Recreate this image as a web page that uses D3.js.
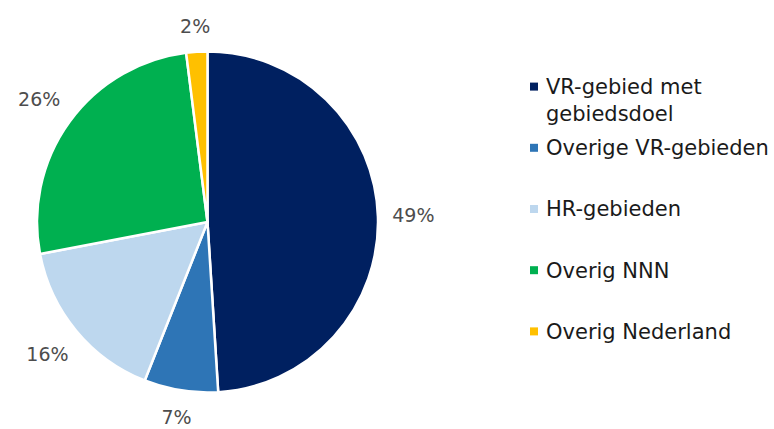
<!DOCTYPE html>
<html lang="nl">

<head>
    <meta charset="UTF-8">
    <title>Verdeling</title>
    <style>
        body {
            margin: 0;
            background: #fff;
            font-family: "DejaVu Sans", sans-serif;
        }
    </style>
</head>

<body>
    <div id="chart"></div>
    <script src="https://d3js.org/d3.v7.min.js"></script>
    <script>
        const categories = ["VR-gebied met gebiedsdoel", "Overige VR-gebieden", "HR-gebieden", "Overig NNN", "Overig Nederland"];
        const shares = [49, 7, 16, 26, 2];
        const colors = ["#002060", "#2e75b6", "#bdd7ee", "#00b050", "#ffc000"];

        function drawPie() {
            const width = 774;
            const height = 429;
            const cx = 207.5, cy = 222, radius = 170.5;

            const data = categories.map((c, i) => ({ name: c, value: shares[i] }));

            const svg = d3.select("#chart").append("svg")
                .attr("width", width)
                .attr("height", height)
                .attr("viewBox", [0, 0, width, height]);

            const color = d3.scaleOrdinal().domain(categories).range(colors);

            const pie = d3.pie().sort(null).value(d => d.value);
            const arcs = pie(data);

            const arc = d3.arc().innerRadius(0).outerRadius(radius);

            const g = svg.append("g").attr("transform", `translate(${cx},${cy})`);

            g.selectAll("path")
                .data(arcs)
                .join("path")
                .attr("d", arc)
                .attr("fill", d => color(d.data.name))
                .attr("stroke", "#fff")
                .attr("stroke-width", 2.5)
                .attr("stroke-linejoin", "round");

            // labels sit just outside the rim, pushed out by half their box
            const pad = 14;
            g.selectAll("text")
                .data(arcs)
                .join("text")
                .attr("text-anchor", "middle")
                .attr("dy", "0.35em")
                .attr("fill", "#4d4d4d")
                .style("font-size", "19px")
                .text(d => d3.format(".0f")(d.data.value) + "%")
                .each(function (d) {
                    const box = this.getBBox();
                    const a = (d.startAngle + d.endAngle) / 2;
                    const s = Math.sin(a), c = -Math.cos(a);
                    const r = radius + pad + Math.abs(s) * box.width / 2 + Math.abs(c) * box.height / 2;
                    d3.select(this).attr("transform", `translate(${r * s},${r * c})`);
                });

            // legend
            const y = d3.scaleBand()
                .domain(categories)
                .range([56, 362]);

            const legend = svg.append("g")
                .attr("transform", "translate(530,0)");

            const item = legend.selectAll("g")
                .data(categories)
                .join("g")
                .attr("transform", d => `translate(0,${y(d) + y.bandwidth() / 2})`);

            item.append("rect")
                .attr("x", 0)
                .attr("y", -4)
                .attr("width", 8)
                .attr("height", 8)
                .attr("fill", color);

            item.append("text")
                .attr("x", 16)
                .attr("fill", "#1a1a1a")
                .style("font-size", "21px")
                .each(function (d) {
                    const text = d3.select(this);
                    const words = d.split(" ");
                    let line = [];
                    let tspan = text.append("tspan").attr("x", 16).attr("dy", "0.35em");
                    for (const w of words) {
                        line.push(w);
                        tspan.text(line.join(" "));
                        if (tspan.node().getComputedTextLength() > 228 && line.length > 1) {
                            line.pop();
                            tspan.text(line.join(" "));
                            line = [w];
                            tspan = text.append("tspan").attr("x", 16).attr("dy", "1.3em").text(w);
                        }
                    }
                });
        }

        document.addEventListener("DOMContentLoaded", drawPie);
    </script>
</body>

</html>
